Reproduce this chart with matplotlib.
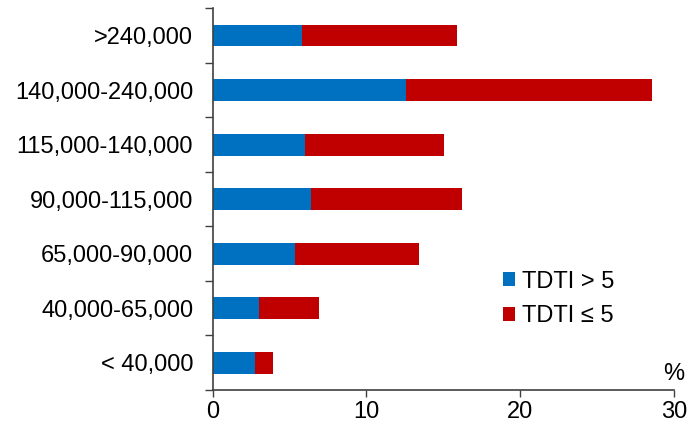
import matplotlib
matplotlib.use("Agg")
import matplotlib.pyplot as plt
from matplotlib.patches import Patch

plt.rcParams['font.family'] = ['Liberation Sans', 'DejaVu Sans']

categories = ["< 40,000", "40,000-65,000", "65,000-90,000", "90,000-115,000",
              "115,000-140,000", "140,000-240,000", ">240,000"]
tdti_gt5 = [2.77, 2.99, 5.35, 6.42, 6.03, 12.56, 5.83]
total = [3.90, 6.92, 13.44, 16.22, 15.05, 28.56, 15.92]
tdti_le5 = [t - g for t, g in zip(total, tdti_gt5)]
xticks = [0, 10, 20, 30]

blue = "#0070C0"
red = "#C00000"
FS = 17

fig = plt.figure(figsize=(6.89, 4.28), dpi=100)
ax = fig.add_axes([0.3087, 0.0888, 0.9778 - 0.3087, 0.9806 - 0.0888])

y = list(range(len(categories)))
ax.barh(y, tdti_gt5, height=0.4, color=blue, edgecolor='none')
ax.barh(y, tdti_le5, left=tdti_gt5, height=0.4, color=red, edgecolor='none')

ax.set_xlim(0, 30)
ax.set_ylim(-0.5, len(categories) - 0.5)
ax.set_xticks(xticks)
ax.set_xticklabels([str(v) for v in xticks], fontsize=FS)
ax.set_yticks([i - 0.5 for i in range(len(categories) + 1)])
ax.set_yticklabels([])
ax.set_yticks(y, minor=True)
ax.set_yticklabels(categories, minor=True, fontsize=FS)
ax.tick_params(axis='y', which='minor', length=0, pad=14)
ax.tick_params(axis='y', which='major', length=6, color='#404040', width=1)
ax.tick_params(axis='x', length=5, color='#404040', width=1, pad=3)

for s in ['top', 'right']:
    ax.spines[s].set_visible(False)
for s in ['left', 'bottom']:
    ax.spines[s].set_color('#404040')
    ax.spines[s].set_linewidth(1.2)

ax.text(0.977, 0.012, "%", transform=ax.transAxes, ha='left', va='bottom', fontsize=FS,
        clip_on=False)

handles = [Patch(facecolor=blue, label="TDTI > 5"), Patch(facecolor=red, label="TDTI ≤ 5")]
fig.legend(handles=handles, loc='center left', bbox_to_anchor=(503 / 689, 1 - 299 / 428),
           frameon=False, fontsize=FS, handlelength=0.52, handleheight=0.52,
           handletextpad=0.3, labelspacing=0.55, borderpad=0, borderaxespad=0)

fig.savefig("out.png", dpi=100)
